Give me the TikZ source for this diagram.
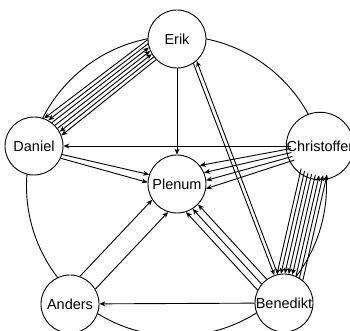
\documentclass[tikz,border=0pt]{standalone}
\usepackage{fontspec}
\setmainfont{Liberation Sans}
\usetikzlibrary{calc,arrows.meta}

% outer radius of a member circle, border included
\newcommand\noderad{29.4}
% straight connector between two circles, shifted sideways:
% #1 style, #2 from, #3 to, #4 shift at start, #5 shift at end (left of travel is positive)
\newcommand\tieline[5]{%
  \pgfmathsetmacro\tieangA{asin((#4)/\noderad)}%
  \pgfmathsetmacro\tieangB{-asin((#5)/\noderad)}%
  \draw[#1] ($(#2)!\noderad pt!\tieangA:(#3)$) -- ($(#3)!\noderad pt!\tieangB:(#2)$);%
}

\begin{document}
\begin{tikzpicture}[x=1pt,y=1pt,line width=0.9pt,
  >={Stealth[length=6pt,width=5pt]},
  member/.style={circle,draw,fill=white,minimum size=58pt,inner sep=0pt,
    font=\fontsize{14.5}{16}\selectfont}]
\useasboundingbox (0,0) rectangle (350,331);

% the ring behind the members
\coordinate (hub) at (176.5,145);
\draw (hub) circle[radius=150];

\node[member] (erik)   at (177,292) {Erik};
\node[member] (chris)  at (320,185) {Christoffer};
\node[member] (bene)   at (284,28)  {Benedikt};
\node[member] (anders) at (70,27)   {Anders};
\node[member] (daniel) at (34,185)  {Daniel};
\node[member] (plenum) at (177,147) {Plenum};

% single connectors
\tieline{->}{erik}{plenum}{0}{0}
\tieline{->}{chris}{daniel}{0}{0}
\tieline{->}{bene}{anders}{0}{0}

% into the plenum
\tieline{->}{daniel}{plenum}{-1}{2}
\tieline{->}{daniel}{plenum}{-5}{-6}
\tieline{->}{anders}{plenum}{11}{8}
\tieline{->}{anders}{plenum}{-9}{-12}
\foreach \a/\b in {11/12,4/5,-3/-2}
  {\tieline{->}{bene}{plenum}{\a}{\b}}
\foreach \a/\b in {-5/-12,-1/-4,3/4,7/12}
  {\tieline{->}{chris}{plenum}{\a}{\b}}

% Erik and Daniel
\foreach \s/\a/\b in {->/-17/-16,->/-13.5/-12,<-/-10/-8,<-/-6.5/-4,<-/-3/0,->/0.5/4,->/4/8}
  {\tieline{\s}{erik}{daniel}{\a}{\b}}

% Christoffer and Benedikt
\foreach \s/\a in {->/-13.3,->/-9.5,->/-5.7,->/-1.9,->/1.9,<-/5.7,<-/9.5,<-/13.3}
  {\tieline{\s}{chris}{bene}{\a}{\a}}

% Erik and Benedikt
\tieline{->}{erik}{bene}{6}{1.5}
\tieline{<-}{erik}{bene}{10}{5}
\end{tikzpicture}
\end{document}
